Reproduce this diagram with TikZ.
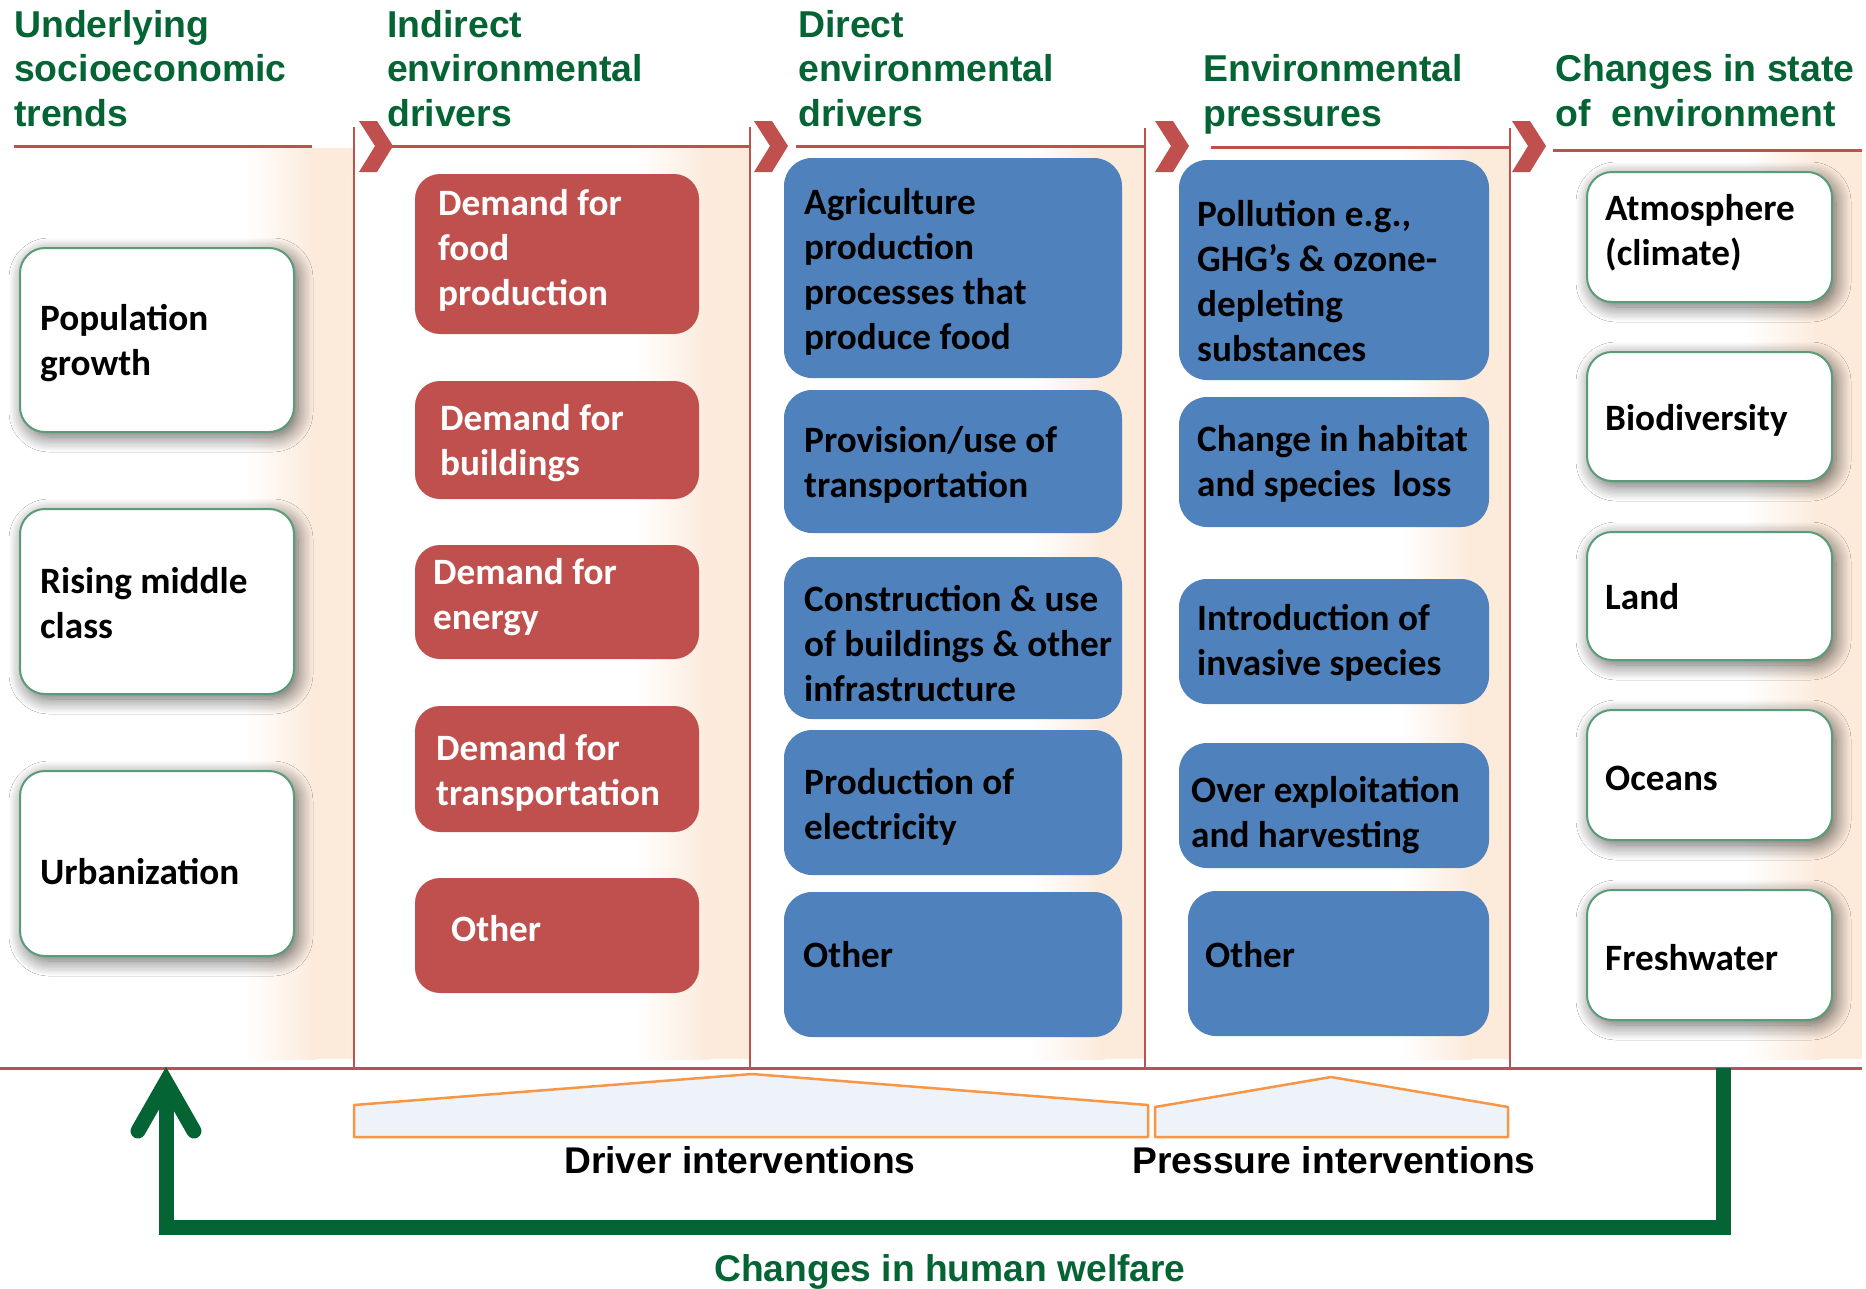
\documentclass[tikz,border=0pt]{standalone}
\usepackage{fontspec}
\setmainfont{Carlito}
\newfontfamily\hdfont{Liberation Sans}
\usetikzlibrary{shadows,shadows.blur}
\definecolor{cred}{HTML}{C0504D}
\definecolor{cblue}{HTML}{4F81BD}
\definecolor{cgreen}{RGB}{5,100,52}
\definecolor{cgbord}{RGB}{90,155,120}
\definecolor{corange}{HTML}{F79646}
\definecolor{ctrap}{RGB}{238,242,249}
\definecolor{cpeach}{RGB}{252,234,219}
\tikzset{
  redbox/.style={fill=cred, draw=none, rounded corners=25pt},
  bluebox/.style={fill=cblue, draw=none, rounded corners=28pt},
  whitebox/.style={fill=white, draw=cgbord, line width=2pt, rounded corners=25pt,
    blur shadow={shadow xshift=4pt, shadow yshift=-5pt, shadow blur radius=15pt,
      shadow opacity=60, shadow blur steps=12}},
  btxt/.style={font=\fontsize{37.2}{44.8}\selectfont\bfseries, align=left, anchor=base west, inner sep=0pt},
  wtxt/.style={btxt, text=white},
  hdr/.style={font=\hdfont\fontsize{37.4}{44.6}\selectfont\bfseries, text=cgreen, align=left, anchor=base west, inner sep=0pt},
  lbl/.style={font=\hdfont\fontsize{37.2}{44.6}\selectfont\bfseries, anchor=base, inner sep=0pt},
  sepline/.style={draw=cred, line width=2pt},
  hline/.style={draw=cred, line width=3pt},
  trap/.style={draw=corange, fill=ctrap, line width=2.5pt, line join=round},
  gline/.style={draw=cgreen, line width=15pt, line join=miter},
  ghead/.style={draw=cgreen, line width=15pt, line cap=round, line join=miter},
}
% base anchor of a multi-line node = baseline of its LAST line
\newcommand\bx[6]{%
  \pgfmathsetmacro\bxw{#5-#3}\pgfmathsetmacro\bxh{#6-#4}%
  \node[#2, minimum width=\bxw pt, minimum height=\bxh pt, inner sep=0pt] (#1) at ({(#3+#5)/2},{(#4+#6)/2}) {};}
\newcommand\chev[1]{\fill[cred] (#1,121) -- (#1+18,121) -- (#1+34,146) -- (#1+18,172) -- (#1,172) -- (#1+16,146) -- cycle;}
\newcommand\peach[3]{%
  \pgfmathsetmacro\pm{#1+0.65*(#2-#1)}%
  \shade[left color=white, right color=cpeach] (#1,#3) rectangle (\pm,1059);
  \fill[cpeach] (\pm,#3) rectangle (#2,1059);}
\begin{document}
\begin{tikzpicture}[x=1pt,y=-1pt]
\useasboundingbox (0,0) rectangle (1866,1288);
\fill[white] (0,0) rectangle (1866,1288);
% background peach gradients
\peach{245}{354}{148}
\peach{635}{750}{148}
\peach{1030}{1145}{148}
\peach{1400}{1510}{149}
\peach{1745}{1862}{152}
% separators
\draw[sepline] (354,127) -- (354,1068);
\draw[sepline] (750,127) -- (750,1068);
\draw[sepline] (1145,128) -- (1145,1068);
\draw[sepline] (1510,128) -- (1510,1068);
\draw[hline] (14,146) -- (312,146);
\draw[hline] (378,146) -- (750,146);
\draw[hline] (796,146) -- (1145,146);
\draw[hline] (1211,147) -- (1510,147);
\draw[hline] (1553,150) -- (1862,150);
\draw[hline] (0,1068) -- (1862,1068);
\chev{359}
\chev{754}
\chev{1155}
\chev{1512}
% headers
\node[hdr] (h1) at (14,126.5) {Underlying\\socioeconomic\\trends};
\node[hdr] (h2) at (387,126.5) {Indirect\\environmental\\drivers};
\node[hdr] (h3) at (798,126.5) {Direct\\environmental\\drivers};
\node[hdr] (h4) at (1203,126.5) {Environmental\\pressures};
\node[hdr] (h5) at (1555,126.5) {Changes in state\\of\ \ environment};
% column 1
\bx{b1}{whitebox}{20}{248}{294}{432}
\bx{b2}{whitebox}{20}{509}{294}{694}
\bx{b3}{whitebox}{20}{771}{294}{956}
\node[btxt] (tb1) at (40,375) {Population\\growth};
\node[btxt] (tb2) at (40,638) {Rising middle\\class};
\node[btxt] (tb3) at (40,884) {Urbanization};
% column 2
\bx{r1}{redbox}{415}{174}{699}{334}
\bx{r2}{redbox}{415}{381}{699}{499}
\bx{r3}{redbox}{415}{545}{699}{659}
\bx{r4}{redbox}{415}{706}{699}{832}
\bx{r5}{redbox}{415}{878}{699}{993}
\node[wtxt] (tr1) at (438,305) {Demand for\\food\\production};
\node[wtxt] (tr2) at (440,475) {Demand for\\buildings};
\node[wtxt] (tr3) at (433,629) {Demand for\\energy};
\node[wtxt] (tr4) at (436,805) {Demand for\\transportation};
\node[wtxt] (tr5) at (451,941) {Other};
% column 3
\bx{d1}{bluebox}{784}{158}{1122}{378}
\bx{d2}{bluebox}{784}{390}{1122}{533}
\bx{d3}{bluebox}{784}{557}{1122}{719}
\bx{d4}{bluebox}{784}{730}{1122}{875}
\bx{d5}{bluebox}{784}{892}{1122}{1037}
\node[btxt] (td1) at (804,349) {Agriculture\\production\\processes that\\produce food};
\node[btxt] (td2) at (804,497) {Provision/use of\\transportation};
\node[btxt] (td3) at (804,701) {Construction \& use\\of buildings \& other\\infrastructure};
\node[btxt] (td4) at (804,839) {Production of\\electricity};
\node[btxt] (td5) at (803,967) {Other};
% column 4
\bx{p1}{bluebox}{1179}{160}{1489}{380}
\bx{p2}{bluebox}{1179}{397}{1489}{527}
\bx{p3}{bluebox}{1179}{579}{1489}{704}
\bx{p4}{bluebox}{1179}{743}{1489}{868}
\bx{p5}{bluebox}{1188}{891}{1489}{1036}
\node[btxt] (tp1) at (1197,361) {Pollution e.g.,\\GHG’s \& ozone-\\depleting\\substances};
\node[btxt] (tp2) at (1197,496) {Change in habitat\\and species\ \ loss};
\node[btxt] (tp3) at (1197,675) {Introduction of\\invasive species};
\node[btxt] (tp4) at (1191,847) {Over exploitation\\and harvesting};
\node[btxt] (tp5) at (1205,967) {Other};
% column 5
\bx{s1}{whitebox}{1587}{172}{1832}{302}
\bx{s2}{whitebox}{1587}{352}{1832}{481}
\bx{s3}{whitebox}{1587}{532}{1832}{660}
\bx{s4}{whitebox}{1587}{710}{1832}{840}
\bx{s5}{whitebox}{1587}{890}{1832}{1020}
\node[btxt] (ts1) at (1605,265) {Atmosphere\\(climate)};
\node[btxt] (ts2) at (1605,430) {Biodiversity};
\node[btxt] (ts3) at (1605,609) {Land};
\node[btxt] (ts4) at (1605,790) {Oceans};
\node[btxt] (ts5) at (1605,970) {Freshwater};
% interventions
\draw[trap] (354,1137) -- (354,1105) -- (752,1074) -- (1148,1105) -- (1148,1137) -- cycle;
\draw[trap] (1155,1137) -- (1155,1107) -- (1331,1077) -- (1508,1107) -- (1508,1137) -- cycle;
\node[lbl] (drv) at (740,1173) {Driver interventions};
\node[lbl] (prs) at (1334,1173) {Pressure interventions};
% feedback arrow
\coordinate (wa) at (1723,1068);
\coordinate (wb) at (166,1068);
\draw[gline] (wa) -- (1723,1227) -- (166,1227) -- ([yshift=-25pt]wb);
\draw[ghead] ([xshift=-28pt,yshift=-63pt]wb) -- ([yshift=-14pt]wb) -- ([xshift=28pt,yshift=-63pt]wb);
\node[lbl, text=cgreen] (hw) at (950,1281) {Changes in human welfare};
\end{tikzpicture}
\end{document}
